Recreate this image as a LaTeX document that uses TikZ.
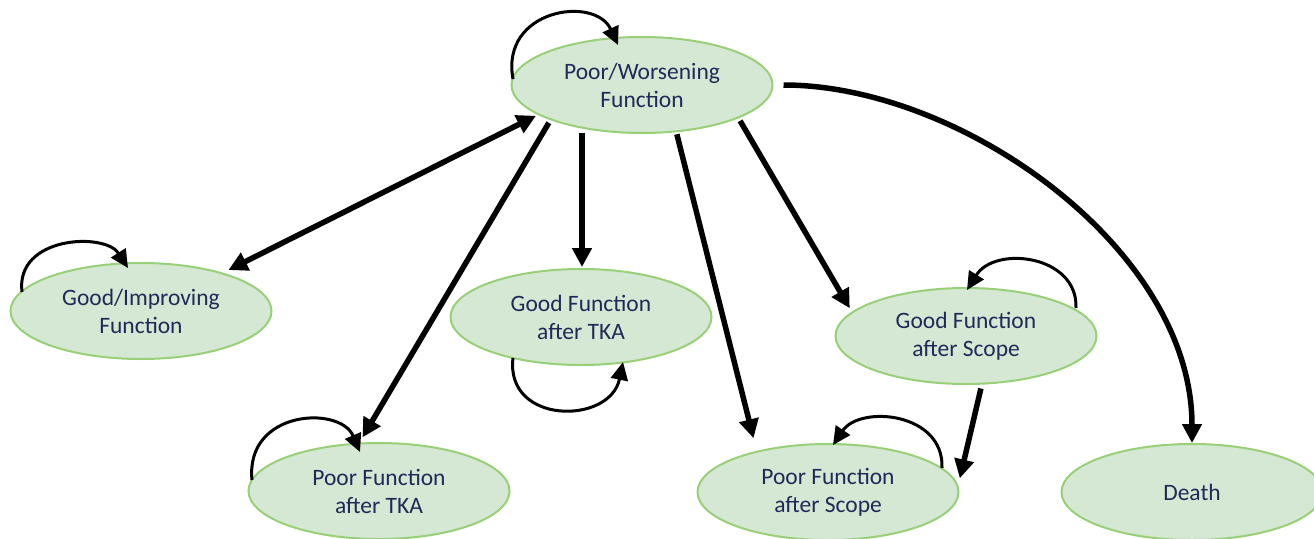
\documentclass[tikz,border=0pt]{standalone}
\usepackage{fontspec}
\setmainfont{Carlito}
\usetikzlibrary{arrows.meta,shapes.geometric}
\definecolor{stfill}{HTML}{D5E8D4}
\definecolor{stdraw}{HTML}{97D077}
\definecolor{sttext}{RGB}{34,40,88}
\tikzset{
  state/.style={ellipse, draw=stdraw, fill=stfill, line width=2pt,
    minimum width=261pt, minimum height=96pt, inner sep=0pt,
    text=sttext, align=center, font=\fontsize{23.5}{28}\selectfont},
  bigarrow/.style={line width=5.5pt, -{Triangle[length=19pt,width=19pt]}},
  bigboth/.style={line width=5.5pt, {Triangle[length=19pt,width=19pt]}-{Triangle[length=19pt,width=19pt]}},
  selfloop/.style={line width=3pt, -{Triangle[length=18pt,width=17pt]}}
}
\begin{document}
\begin{tikzpicture}[x=1pt,y=-1pt]
\useasboundingbox (0,0) rectangle (1314,538);
\node[state] (P)  at (642,85)  {Poor/Worsening\\Function};
\node[state] (G)  at (141,311) {Good/Improving\\Function};
\node[state] (GT) at (581,317) {Good Function\\after TKA};
\node[state] (GS) at (966,336) {Good Function\\after Scope};
\node[state] (PT) at (379,491) {Poor Function\\after TKA};
\node[state] (PS) at (828,492) {Poor Function\\after Scope};
\node[state] (D)  at (1192,492) {Death};

% straight transitions
\draw[bigboth, shorten <=2pt, shorten >=6pt] (P.196) -- (G.25);
\draw[bigarrow, shorten <=3pt, shorten >=6pt] (P.201) -- (PT.112);
\draw[bigarrow, shorten <=4pt, shorten >=1pt] (P.216) -- (P.216 |- GT.north);
\draw[bigarrow, shorten <=2pt, shorten >=13pt] (P.306) -- (PS.150);
\draw[bigarrow, shorten <=3pt, shorten >=4pt] (P.341) -- (GS.168);
\draw[bigarrow, shorten <=4pt, shorten >=7pt] (GS.288) -- (PS.3);
\draw[bigarrow, shorten <=10pt] (P.east) .. controls +(188,0) and +(0,-194) .. (D.north);

% self loops
\draw[selfloop] ([shift={(-129,-6)}]P.center) .. controls +(-13,-70) and +(-23,-50) .. ([shift={(-24,-40)}]P.center);
\draw[selfloop] ([shift={(-119,-19)}]G.center) .. controls +(-7,-56) and +(-23,-36) .. ([shift={(-13,-43)}]G.center);
\draw[selfloop] ([shift={(-68,41)}]GT.center) .. controls +(-8,67) and +(-13,63) .. ([shift={(42,45)}]GT.center);
\draw[selfloop] ([shift={(110,-28)}]GS.center) .. controls +(2,-53) and +(28,-45) .. ([shift={(1,-46)}]GS.center);
\draw[selfloop] ([shift={(114,-24)}]PS.center) .. controls +(2,-56) and +(27,-40) .. ([shift={(5,-47)}]PS.center);
\draw[selfloop] ([shift={(-127,-11)}]PT.center) .. controls +(-7,-70) and +(-20,-47) .. ([shift={(-19,-39)}]PT.center);
\end{tikzpicture}
\end{document}
